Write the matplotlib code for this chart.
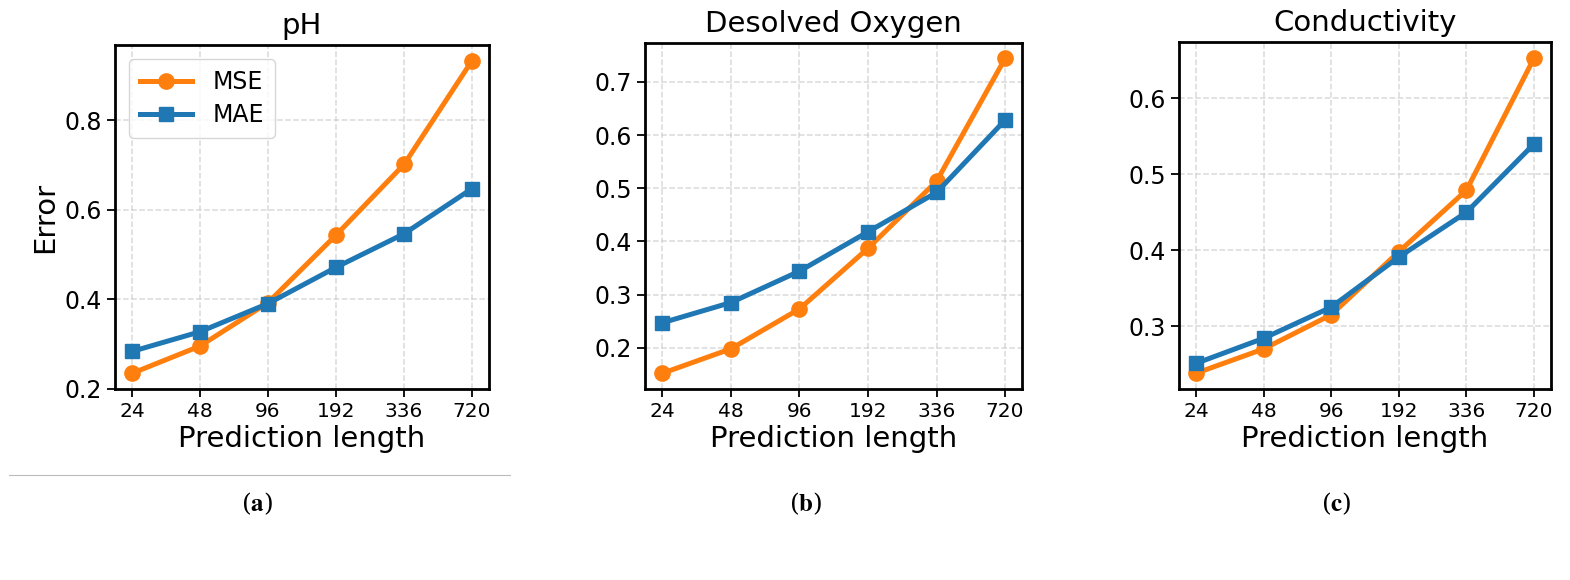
import matplotlib.pyplot as plt
from matplotlib.lines import Line2D

# prediction horizons (x categories)
pred_len = ["24", "48", "96", "192", "336", "720"]

titles = ["pH", "Desolved Oxygen", "Conductivity"]
captions = ["a", "b", "c"]

# values
ph_mse = [0.234, 0.295, 0.392, 0.543, 0.701, 0.933]
ph_mae = [0.283, 0.327, 0.390, 0.471, 0.546, 0.647]
do_mse = [0.152, 0.198, 0.273, 0.387, 0.513, 0.744]
do_mae = [0.247, 0.285, 0.344, 0.418, 0.492, 0.628]
cond_mse = [0.238, 0.270, 0.315, 0.398, 0.479, 0.653]
cond_mae = [0.251, 0.284, 0.325, 0.391, 0.450, 0.540]

mse_all = [ph_mse, do_mse, cond_mse]
mae_all = [ph_mae, do_mae, cond_mae]

plt.rcParams['mathtext.fontset'] = 'stix'

fig = plt.figure(figsize=(15.7, 5.8), dpi=100)

# axes boxes in figure fraction: left, bottom, width, height
boxes = [
    [0.0732, 0.3293, 0.2383, 0.5931],
    [0.4110, 0.3293, 0.2401, 0.5971],
    [0.7510, 0.3293, 0.2369, 0.5978],
]
cap_x = [0.164, 0.513, 0.851]

x = list(range(len(pred_len)))

for i in range(3):
    ax = fig.add_axes(boxes[i])
    ax.plot(x, mse_all[i], color="#ff7f0e", marker="o", markersize=11,
            linewidth=3.6, label="MSE")
    ax.plot(x, mae_all[i], color="#1f77b4", marker="s", markersize=10,
            linewidth=3.6, label="MAE")
    ax.set_xticks(x)
    ax.set_xticklabels(pred_len)
    ax.tick_params(axis="x", labelsize=14.5, width=1.3, length=6)
    ax.tick_params(axis="y", labelsize=17, width=1.3, length=6)
    ax.grid(True, linestyle="--", color="#d0d0d0", linewidth=1.1, alpha=0.8)
    for sp in ax.spines.values():
        sp.set_linewidth(2)
    ax.set_title(titles[i], fontsize=21, pad=8)
    ax.set_xlabel("Prediction length", fontsize=21, labelpad=3)
    if i == 0:
        ax.set_ylabel("Error", fontsize=21)
        ax.legend(loc="upper left", fontsize=17, handlelength=2.2,
                  borderpad=0.45, labelspacing=0.4, handletextpad=0.9,
                  borderaxespad=0.6)
    fig.text(cap_x[i], 0.131, r"($\mathbf{%s}$)" % captions[i],
             fontsize=18, family="serif", ha="center", va="center")

# thin rule under the first panel
fig.add_artist(Line2D([0.006, 0.325], [0.181, 0.181], color="#bbbbbb",
                      linewidth=0.8))

fig.savefig("out.png", dpi=100)
